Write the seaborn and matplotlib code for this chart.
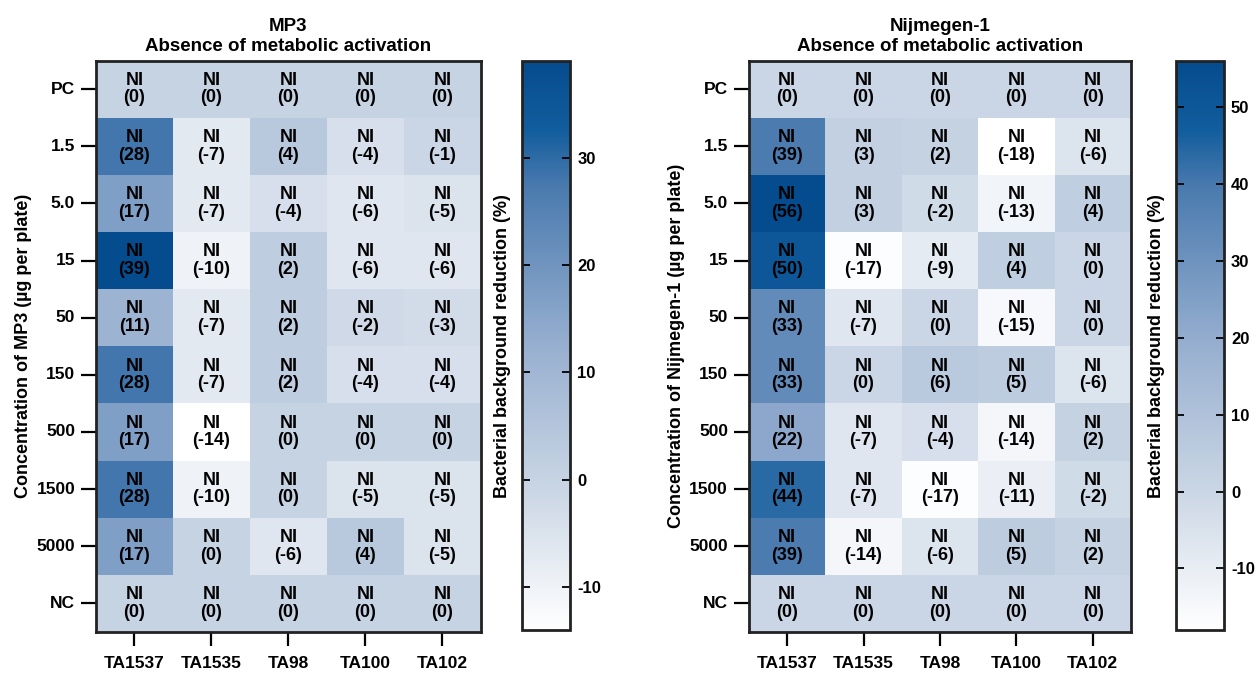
import matplotlib
matplotlib.use("Agg")
import matplotlib.pyplot as plt
import seaborn as sns
import numpy as np
import pandas as pd
from matplotlib.colors import LinearSegmentedColormap

plt.rcParams['font.family'] = ['Liberation Sans', 'DejaVu Sans']
plt.rcParams['font.weight'] = 'bold'
plt.rcParams['axes.unicode_minus'] = False

doses = ['PC', '1.5', '5.0', '15', '50', '150', '500', '1500', '5000', 'NC']
strains = ['TA1537', 'TA1535', 'TA98', 'TA100', 'TA102']

mp3_vals = [
    [0, 0, 0, 0, 0],
    [28, -7, 4, -4, -1],
    [17, -7, -4, -6, -5],
    [39, -10, 2, -6, -6],
    [11, -7, 2, -2, -3],
    [28, -7, 2, -4, -4],
    [17, -14, 0, 0, 0],
    [28, -10, 0, -5, -5],
    [17, 0, -6, 4, -5],
    [0, 0, 0, 0, 0],
]

nij_vals = [
    [0, 0, 0, 0, 0],
    [39, 3, 2, -18, -6],
    [56, 3, -2, -13, 4],
    [50, -17, -9, 4, 0],
    [33, -7, 0, -15, 0],
    [33, 0, 6, 5, -6],
    [22, -7, -4, -14, 2],
    [44, -7, -17, -11, -2],
    [39, -14, -6, 5, 2],
    [0, 0, 0, 0, 0],
]

cmap = LinearSegmentedColormap.from_list('gp_blues', [
    (0.0, '#ffffff'),
    (0.25, '#c9d5e4'),
    (0.5, '#97afd0'),
    (0.78, '#4a7aae'),
    (0.88, '#125d9d'),
    (1.0, '#054c8e'),
])


def draw_panel(fig, vals, name, rect, cbar_rect):
    df = pd.DataFrame(vals, index=doses, columns=strains)
    labels = df.apply(lambda col: col.map(lambda v: f"NI\n({v})"))
    ax = fig.add_axes(rect)
    cax = fig.add_axes(cbar_rect)
    sns.heatmap(df, ax=ax, cbar_ax=cax, cmap=cmap, annot=labels, fmt='',
                annot_kws={'color': 'black', 'fontsize': 13, 'fontweight': 'bold',
                           'linespacing': 1.05})

    for sp in ax.spines.values():
        sp.set_visible(True)
        sp.set_linewidth(2)
        sp.set_color('#222222')
    ax.set_yticklabels(doses, rotation=0, fontsize=12.5, fontweight='bold')
    ax.set_xticklabels(strains, rotation=0, fontsize=12.5, fontweight='bold')
    ax.tick_params(axis='y', length=11, width=1.6, pad=4)
    ax.tick_params(axis='x', length=10, width=1.6, pad=7)
    ax.set_xlabel('')
    ax.set_ylabel(f'Concentration of {name} (µg per plate)', fontsize=13,
                  fontweight='bold', labelpad=3)
    ax.set_title(f'{name}\nAbsence of metabolic activation', fontsize=13.5,
                 fontweight='bold', pad=7, linespacing=1.25)

    cb = ax.collections[0].colorbar
    cb.outline.set_visible(True)
    cb.outline.set_linewidth(2)
    cb.outline.set_edgecolor('#222222')
    lo = int(np.ceil(df.values.min() / 10.0) * 10)
    hi = int(np.floor(df.values.max() / 10.0) * 10)
    cb.set_ticks(list(range(lo, hi + 1, 10)))
    cb.ax.tick_params(direction='in', left=True, right=True, length=6,
                      width=1.3, labelsize=12, pad=5)
    for t in cb.ax.get_yticklabels():
        t.set_fontweight('bold')
    cb.ax.yaxis.set_label_position('left')
    cb.set_label('Bacterial background reduction (%)', fontsize=13,
                 fontweight='bold', labelpad=8)
    return ax


fig = plt.figure(figsize=(12.56, 6.73), dpi=100)

draw_panel(fig, mp3_vals, 'MP3', [0.0764, 0.061, 0.3065, 0.849],
           [0.4156, 0.064, 0.0385, 0.845])
draw_panel(fig, nij_vals, 'Nijmegen-1', [0.5963, 0.061, 0.3041, 0.849],
           [0.9363, 0.064, 0.0382, 0.845])

fig.savefig('out.png', dpi=100)
